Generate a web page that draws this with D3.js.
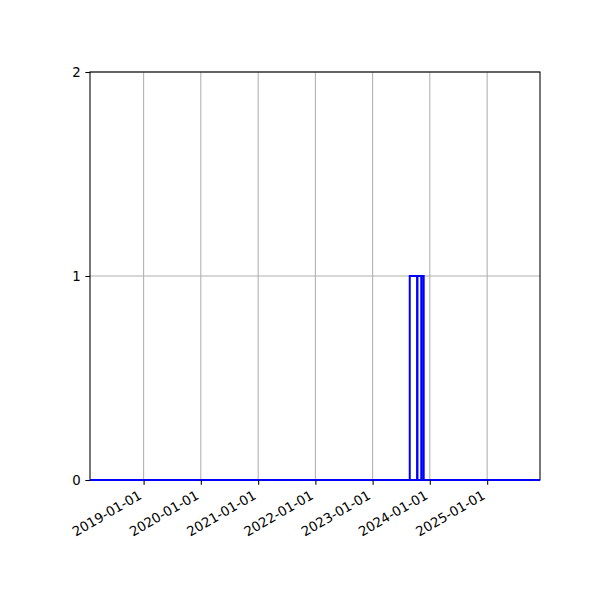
<!DOCTYPE html>
<html>
<head>
<meta charset="utf-8">
<script src="https://cdn.jsdelivr.net/npm/d3@7"></script>
<style>
  body { margin: 0; background: #fff; }
  svg { font-family: "DejaVu Sans", sans-serif; }
</style>
</head>
<body>
<svg id="chart" width="600" height="600"></svg>
<script>
// Histogram bin edges (dates) and counts per bin
const binEdges = ["2018-01-24", "2023-08-26", "2023-10-13", "2023-11-09", "2023-11-23", "2025-12-04"];
const binCounts = [0, 1, 1, 1, 0];
const xTickLabels = ["2019-01-01", "2020-01-01", "2021-01-01", "2022-01-01", "2023-01-01", "2024-01-01", "2025-01-01"];
const yTickValues = [0, 1, 2];
const xDomain = ["2018-01-24", "2025-12-04"];

const parse = d3.utcParse("%Y-%m-%d");
const svg = d3.select("#chart");
const margin = { left: 90, right: 60, top: 72, bottom: 120 };
const W = 600, H = 600;

const x = d3.scaleUtc().domain(xDomain.map(parse)).range([margin.left, W - margin.right]);
const y = d3.scaleLinear().domain([0, 2]).range([H - margin.bottom, margin.top]);

const xTicks = xTickLabels.map(parse);

// grid
const grid = svg.append("g");
grid.selectAll("line.gx").data(xTicks).join("line")
  .attr("x1", d => x(d)).attr("x2", d => x(d))
  .attr("y1", y(0)).attr("y2", y(2))
  .attr("stroke", "#b0b0b0").attr("stroke-width", 1.07);
grid.selectAll("line.gy").data(yTickValues).join("line")
  .attr("x1", x.range()[0]).attr("x2", x.range()[1])
  .attr("y1", d => y(d)).attr("y2", d => y(d))
  .attr("stroke", "#b0b0b0").attr("stroke-width", 1.07);

// spines
svg.append("rect")
  .attr("x", margin.left).attr("y", margin.top)
  .attr("width", W - margin.left - margin.right)
  .attr("height", H - margin.top - margin.bottom)
  .attr("fill", "none").attr("stroke", "black").attr("stroke-width", 1.07);

// bins (drawn as closed paths so zero-count bins show as a baseline stroke)
const bins = binCounts.map((c, i) => ({ x0: parse(binEdges[i]), x1: parse(binEdges[i + 1]), c }));
svg.append("g").selectAll("path").data(bins).join("path")
  .attr("d", d => {
    const a = x(d.x0), b = x(d.x1), y0 = y(0), yc = y(d.c);
    return `M${a},${y0}L${a},${yc}L${b},${yc}L${b},${y0}Z`;
  })
  .attr("fill", "none")
  .attr("stroke", "blue")
  .attr("stroke-width", 2)
  .attr("stroke-linejoin", "miter");

// x axis
const xAxis = svg.append("g")
  .attr("transform", `translate(0,${y(0)})`)
  .call(d3.axisBottom(x).tickValues(xTicks).tickFormat(d3.utcFormat("%Y-%m-%d")).tickSize(4.67));
xAxis.select(".domain").remove();
xAxis.selectAll(".tick line").attr("stroke", "black").attr("stroke-width", 1.07);
xAxis.selectAll(".tick text")
  .attr("font-size", "13.3px")
  .attr("font-family", "DejaVu Sans")
  .attr("fill", "black")
  .attr("text-anchor", "end")
  .attr("x", 0).attr("y", 0).attr("dy", 0)
  .attr("transform", "translate(-1.5,18) rotate(-30)");

// y axis
const yAxis = svg.append("g")
  .attr("transform", `translate(${margin.left},0)`)
  .call(d3.axisLeft(y).tickValues(yTickValues).tickFormat(d3.format("d")).tickSize(4.67).tickPadding(4.7));
yAxis.select(".domain").remove();
yAxis.selectAll(".tick line").attr("stroke", "black").attr("stroke-width", 1.07);
yAxis.selectAll(".tick text")
  .attr("font-size", "13.3px")
  .attr("font-family", "DejaVu Sans")
  .attr("fill", "black");
</script>
</body>
</html>
